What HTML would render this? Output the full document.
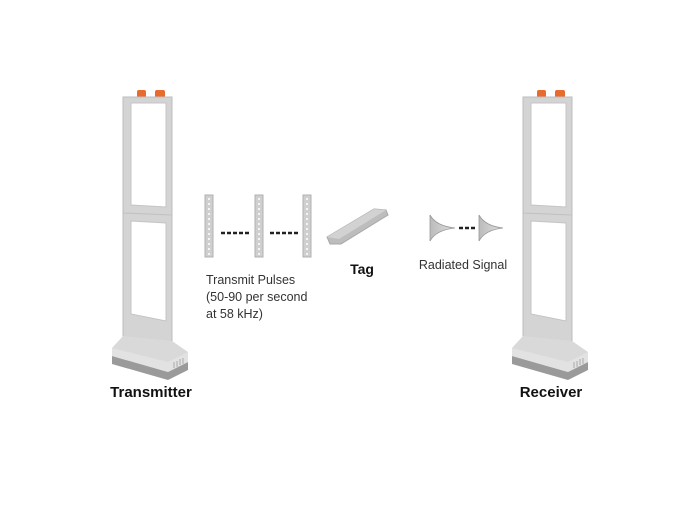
<!DOCTYPE html>
<html><head><style>
body{margin:0;background:#fff;}
svg text{font-family:"Liberation Sans",sans-serif;}
</style></head><body>
<svg width="700" height="500" viewBox="0 0 700 500" xmlns="http://www.w3.org/2000/svg">
<defs>
<g id="gate">
  <rect x="137" y="90" width="9" height="8" rx="2" fill="#e86a2c"/>
  <rect x="155" y="90" width="10" height="8" rx="2" fill="#e86a2c"/>
  <path d="M123 97 L172 97 L172 345 L123 340 Z" fill="#d4d4d4" stroke="#bdbdbd" stroke-width="1"/>
  <path d="M131 103 L166 103 L166 207 L131 205 Z" fill="#fff" stroke="#c4c4c4"/>
  <path d="M131 221 L166 223 L166 321 L131 314 Z" fill="#fff" stroke="#c4c4c4"/>
  <line x1="123" y1="213" x2="172" y2="215" stroke="#c0c0c0"/>
  <path d="M112 348 L123 336 L172 341 L188 352 L188 368 L168 378 L112 362 Z" fill="#d9d9d9"/>
  <path d="M112 356 L168 372 L188 362 L188 370 L168 380 L112 364 Z" fill="#9a9a9a"/>
  <path d="M112 348 L168 362 L188 352 L188 362 L168 372 L112 356 Z" fill="#e2e2e2"/>
  <g stroke="#aaa" stroke-width="1">
    <line x1="174" y1="362" x2="174" y2="368"/><line x1="177" y1="361" x2="177" y2="367"/>
    <line x1="180" y1="359" x2="180" y2="365"/><line x1="183" y1="358" x2="183" y2="364"/>
  </g>
</g>
<g id="bar">
  <rect x="0" y="195" width="8" height="62" fill="#cfcfcf" stroke="#b0b0b0"/>
  <line x1="4" y1="198" x2="4" y2="255" stroke="#f4f4f4" stroke-width="2" stroke-dasharray="2 3"/>
</g>
<linearGradient id="sg" x1="0" x2="1"><stop offset="0" stop-color="#bbb"/><stop offset="1" stop-color="#e0e0e0"/></linearGradient>
</defs>
<use href="#gate"/>
<use href="#gate" transform="translate(400,0)"/>
<text x="151" y="397" font-size="15" font-weight="bold" text-anchor="middle" fill="#111">Transmitter</text>
<text x="551" y="397" font-size="15" font-weight="bold" text-anchor="middle" fill="#111">Receiver</text>
<use href="#bar" transform="translate(205,0)"/>
<use href="#bar" transform="translate(255,0)"/>
<use href="#bar" transform="translate(303,0)"/>
<line x1="221" y1="233" x2="250" y2="233" stroke="#222" stroke-width="2.5" stroke-dasharray="4 2"/>
<line x1="270" y1="233" x2="299" y2="233" stroke="#222" stroke-width="2.5" stroke-dasharray="4 2"/>
<path d="M327 237 L374 209 L386 210 L388 215 L341 244 L330 244 Z" fill="#bdbdbd" stroke="#a8a8a8"/>
<path d="M327 237 L374 209 L386 210 L339 239 Z" fill="#d2d2d2"/>
<text x="206" y="284" font-size="12.5" fill="#333">Transmit Pulses</text>
<text x="206" y="301" font-size="12.5" fill="#333">(50-90 per second</text>
<text x="206" y="318" font-size="12.5" fill="#333">at 58 kHz)</text>
<text x="362" y="274" font-size="14" font-weight="bold" text-anchor="middle" fill="#111">Tag</text>
<text x="463" y="269" font-size="12.5" text-anchor="middle" fill="#333">Radiated Signal</text>
<path d="M430 215 Q436 226 455 228 Q436 230 430 241 Z" fill="url(#sg)" stroke="#999" stroke-width="0.8"/>
<line x1="459" y1="228" x2="476" y2="228" stroke="#222" stroke-width="2.5" stroke-dasharray="4 2"/>
<path d="M479 215 Q485 226 503 228 Q485 230 479 241 Z" fill="url(#sg)" stroke="#999" stroke-width="0.8"/>
</svg>
</body></html>
